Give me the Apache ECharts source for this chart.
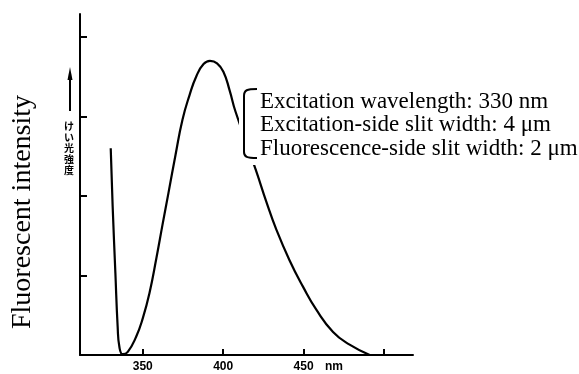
<!DOCTYPE html>
<html>
<head>
<meta charset="utf-8">
<script src="https://cdn.jsdelivr.net/npm/echarts@6/dist/echarts.min.js"></script>
<style>
  html, body { margin: 0; padding: 0; background: #fff; }
  #chart { width: 579px; height: 374px; }
</style>
</head>
<body>
<div id="chart"></div>
<script>
// emission spectrum: wavelength (nm) and intensity (arb. units)
const wavelengths = [330.1, 331.3, 333.0, 334.4, 335.5, 337.6, 340.7, 345.9, 350.0, 354.2, 358.5, 362.3, 366.0, 370.4, 374.7, 379.1, 383.4, 387.8, 391.8, 396.2, 400.2, 404.0, 407.7, 420.6, 426.8, 433.0, 441.3, 449.6, 457.9, 468.3, 478.6, 491.1]
const intensity = [2.60, 1.87, 1.03, 0.36, 0.10, 0.01, 0.04, 0.23, 0.46, 0.78, 1.22, 1.64, 2.04, 2.52, 2.96, 3.27, 3.51, 3.66, 3.70, 3.67, 3.56, 3.33, 3.06, 2.31, 1.93, 1.58, 1.19, 0.86, 0.57, 0.29, 0.13, 0.00]

const xTicks = [350, 400, 450, 500]
const xLabels = [350, 400, 450]
const yTicks = [1, 2, 3, 4]

const yAxisTitle = 'Fluorescent intensity'
const jpTitle = 'けい光強度'
const conditions = [
  'Excitation wavelength: 330 nm',
  'Excitation-side slit width: 4 μm',
  'Fluorescence-side slit width: 2 μm'
]

const chart = echarts.init(document.getElementById('chart'))

const option = {
  animation: false,
  backgroundColor: '#fff',
  grid: { left: 80, right: 166, top: 14, bottom: 19 },
  xAxis: {
    type: 'value',
    min: 311,
    max: 518,
    splitLine: { show: false },
    axisLine: { lineStyle: { color: '#000', width: 2 } },
    axisTick: {
      inside: true,
      length: 6,
      customValues: xTicks,
      lineStyle: { color: '#000', width: 2 }
    },
    axisLabel: {
      customValues: xLabels,
      margin: 6,
      color: '#000',
      fontFamily: 'Liberation Sans',
      fontWeight: 'bold',
      fontSize: 12
    }
  },
  yAxis: {
    type: 'value',
    min: 0,
    max: 4.29,
    splitLine: { show: false },
    axisLine: { lineStyle: { color: '#000', width: 2 } },
    axisTick: {
      inside: true,
      length: 7,
      customValues: yTicks,
      lineStyle: { color: '#000', width: 2 }
    },
    axisLabel: { show: false }
  },
  series: [{
    type: 'line',
    data: wavelengths.map((w, i) => [w, intensity[i]]),
    smooth: 0.5,
    symbol: 'none',
    lineStyle: { color: '#000', width: 2.2 },
    z: 2
  }],
  graphic: [
    {
      type: 'text',
      x: 23,
      y: 212,
      rotation: Math.PI / 2,
      style: {
        text: yAxisTitle,
        font: '28px "Liberation Serif"',
        fill: '#000',
        align: 'center',
        verticalAlign: 'middle'
      }
    },
    // small upward arrow next to the Japanese label
    {
      type: 'line',
      shape: { x1: 70, y1: 78, x2: 70, y2: 111 },
      style: { stroke: '#000', lineWidth: 2 }
    },
    {
      type: 'polygon',
      shape: { points: [[70, 67], [67.5, 80], [72.5, 80]] },
      style: { fill: '#000' }
    },
    {
      type: 'text',
      x: 69,
      y: 121,
      style: {
        text: jpTitle.split('').join('\n'),
        font: 'bold 10px "Noto Sans CJK JP"',
        lineHeight: 11,
        fill: '#000',
        align: 'center',
        verticalAlign: 'top'
      }
    },
    // white box behind the measuring conditions (hides the curve there)
    {
      type: 'rect',
      z: 100,
      shape: { x: 239, y: 85, width: 340, height: 80 },
      style: { fill: '#fff' }
    },
    // bracket
    {
      type: 'bezierCurve',
      z: 101,
      shape: { x1: 257, y1: 89, cpx1: 247, cpy1: 89, cpx2: 244, cpy2: 90, x2: 244, y2: 96 },
      style: { stroke: '#000', lineWidth: 2, fill: null }
    },
    {
      type: 'line',
      z: 101,
      shape: { x1: 244, y1: 96, x2: 244, y2: 152 },
      style: { stroke: '#000', lineWidth: 2 }
    },
    {
      type: 'bezierCurve',
      z: 101,
      shape: { x1: 244, y1: 152, cpx1: 244, cpy1: 157, cpx2: 247, cpy2: 158, x2: 257, y2: 158 },
      style: { stroke: '#000', lineWidth: 2, fill: null }
    },
    {
      type: 'text',
      z: 101,
      x: 260,
      y: 90,
      style: {
        text: conditions.join('\n'),
        font: '23px "Liberation Serif"',
        lineHeight: 23.5,
        fill: '#000',
        align: 'left',
        verticalAlign: 'top'
      }
    },
    {
      type: 'text',
      x: 334,
      y: 367,
      style: {
        text: 'nm',
        font: 'bold 12px "Liberation Sans"',
        fill: '#000',
        align: 'center',
        verticalAlign: 'middle'
      }
    }
  ]
}

chart.setOption(option)
</script>
</body>
</html>
